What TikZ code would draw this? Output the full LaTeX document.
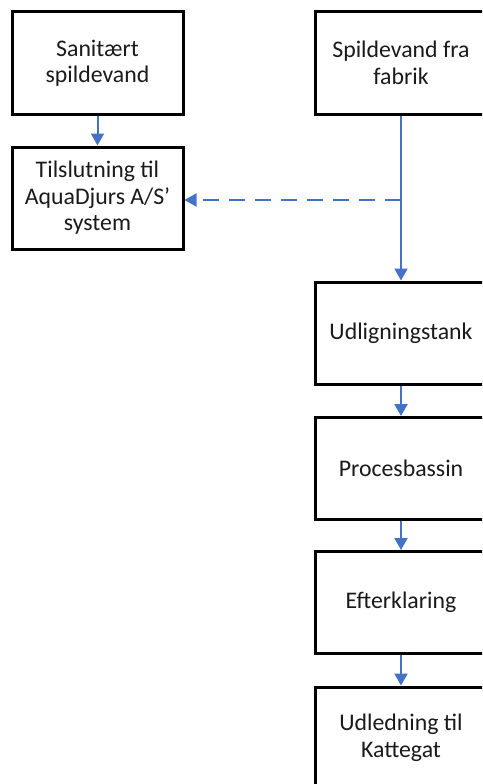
\documentclass[tikz,border=0pt]{standalone}
\usepackage{fontspec}
\setmainfont{Carlito}
\usetikzlibrary{arrows.meta}
\definecolor{flowblue}{HTML}{4472C4}
\definecolor{txt}{HTML}{1A1A1A}
\tikzset{
  box/.style={draw=black, line width=3pt, rectangle, minimum width=171pt, minimum height=102pt,
    align=center, inner sep=0pt, text=txt, font=\fontsize{23.8pt}{26.5pt}\selectfont},
  rbox/.style={box, minimum width=172pt},
  flow/.style={draw=flowblue, line width=2pt, -{Triangle[length=12pt,width=13pt]}},
  dflow/.style={flow, dash pattern=on 16pt off 10pt}
}
\begin{document}
\begin{tikzpicture}[x=1pt,y=-1pt]
\useasboundingbox (0,0) rectangle (482,784);
\clip (0,0) rectangle (482,784);
\node[box] (san) at (97.5,63) {Sanitært\\spildevand};
\node[box] (tils) at (97.5,198) {Tilslutning til\\AquaDjurs A/S’\\system};
\node[rbox] (fab) at (401,63) {Spildevand fra\\fabrik};
\node[rbox] (udl) at (401,333) {Udligningstank};
\node[rbox] (pro) at (401,468.5) {Procesbassin};
\node[rbox] (eft) at (401,602.5) {Efterklaring};
\node[rbox] (kat) at (401,738) {Udledning til\\Kattegat};
\coordinate (j) at (401,200);
\draw[flow] (san) -- (tils);
\draw[flow] (fab) -- (udl);
\draw[dflow] (j) -- (tils.east |- j);
\draw[flow] (udl) -- (pro);
\draw[flow] (pro) -- (eft);
\draw[flow] (eft) -- (kat);
\end{tikzpicture}
\end{document}
